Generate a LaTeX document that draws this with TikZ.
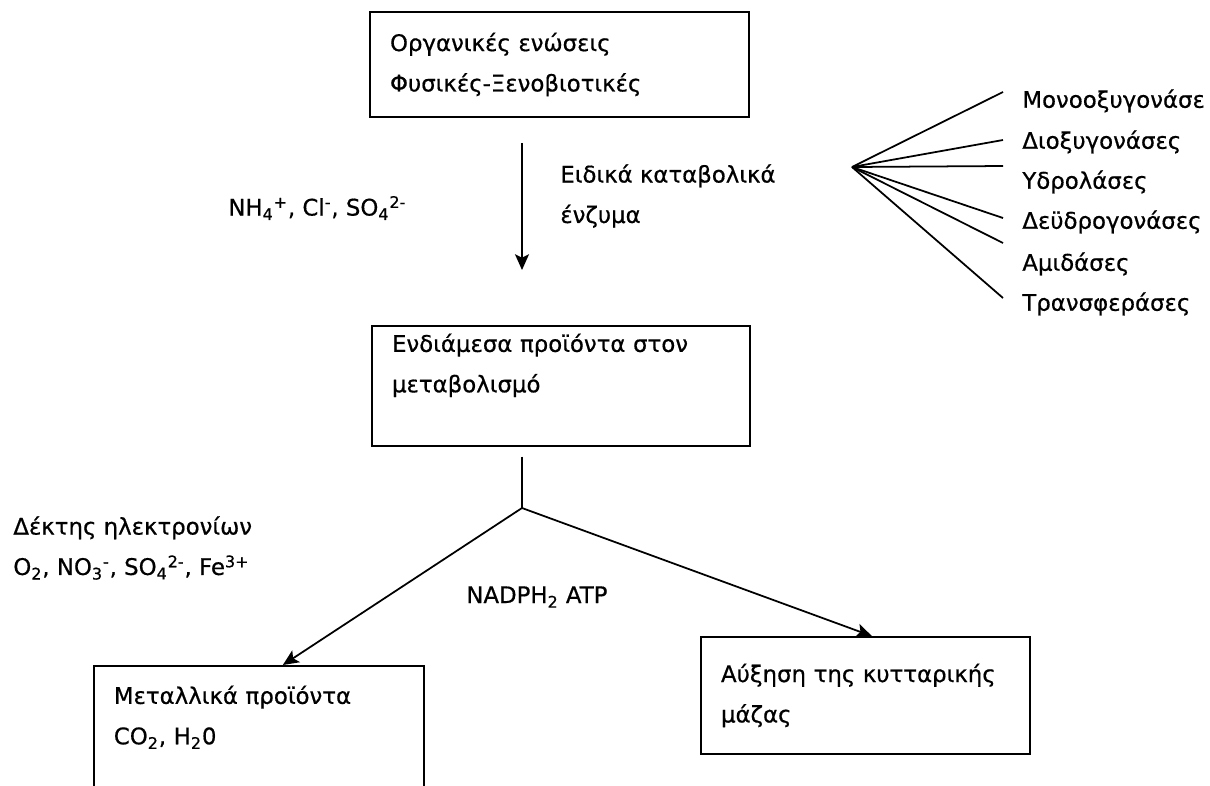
\documentclass[tikz,border=0pt]{standalone}
\usepackage{fontspec}
\setmainfont[FakeBold=0.6]{DejaVu Sans}
\usetikzlibrary{arrows.meta}

\begin{document}
\begin{tikzpicture}[x=0.02cm,y=-0.02cm]
		\tikzstyle{Box} = [rectangle, draw=black, line width=1pt, align=left, inner xsep=0.4cm, font=\fontsize{13}{23}\selectfont]
		\tikzstyle{Txt} = [align=left, inner sep=0pt, font=\fontsize{13}{23}\selectfont]
		\tikzstyle{Enzyme} = [anchor=west, inner xsep=0.38cm, inner ysep=0pt, font=\fontsize{13}{15}\selectfont]
		\tikzstyle{line} = [line width=1pt]
		\tikzstyle{arrow} = [line width=1pt,-{Stealth[length=9pt,width=8pt,inset=2pt]}]
		
		\useasboundingbox (0,0) rectangle (1210,785);
		\clip (0,0) rectangle (1210,785);
		
		\node (organic) [Box, text width=6.78cm, minimum height=2.1cm] at (559.5,64.5) {Οργανικές ενώσεις\\Φυσικές-Ξενοβιοτικές};
		\node (inter) [Box, text width=6.76cm, anchor=north, inner ysep=0.22cm, text height=0.3cm, text depth=1.66cm] at (561,325) {Ενδιάμεσα προϊόντα στον\\μεταβολισμό};
		\node (growth) [Box, text width=5.78cm, minimum height=2.34cm] at (865.5,695.5) {Αύξηση της κυτταρικής\\μάζας};
		\node (mineral) [Box, text width=5.8cm, anchor=north west, inner ysep=0.46cm, text height=0.3cm, text depth=3cm] at (93,665) {Μεταλλικά προϊόντα\\CO\textsubscript{2}, H\textsubscript{2}0};
		
		\node (ions) [Txt, anchor=west] at (228,208) {NH\textsubscript{4}\textsuperscript{+}, Cl\textsuperscript{-}, SO\textsubscript{4}\textsuperscript{2-}};
		\node (catab) [Txt, anchor=west] at (560,196) {Ειδικά καταβολικά\\ένζυμα};
		\node (acceptor) [Txt, anchor=west] at (13,548) {Δέκτης ηλεκτρονίων\\O\textsubscript{2}, NO\textsubscript{3}\textsuperscript{-}, SO\textsubscript{4}\textsuperscript{2-}, Fe\textsuperscript{3+}};
		\node (energy) [Txt, anchor=west] at (466,597) {NADPH\textsubscript{2} ATP};
		
		\node (mono) [Enzyme] at (1003,101) {Μονοοξυγονάσε};
		\node (dio) [Enzyme] at (1003,142) {Διοξυγονάσες};
		\node (hydro) [Enzyme] at (1003,182) {Υδρολάσες};
		\node (dehydro) [Enzyme] at (1003,222) {Δεϋδρογονάσες};
		\node (amid) [Enzyme] at (1003,264) {Αμιδάσες};
		\node (trans) [Enzyme] at (1003,304) {Τρανσφεράσες};
		
		\coordinate (fan) at (852,167);
		\coordinate (split) at (522,508);
		
		\draw [line] (fan) -- ([yshift=0.18cm]mono.west);
		\draw [line] (fan) -- ([yshift=0.04cm]dio.west);
		\draw [line] (fan) -- ([yshift=0.32cm]hydro.west);
		\draw [line] (fan) -- ([yshift=0.08cm]dehydro.west);
		\draw [line] (fan) -- ([yshift=0.42cm]amid.west);
		\draw [line] (fan) -- ([yshift=0.12cm]trans.west);
		
		\draw [arrow, shorten <=0.5cm, shorten >=1.1cm] (organic.south -| split) -- (inter.north -| split);
		\draw [line, shorten <=0.2cm] (inter.south -| split) -- (split);
		\draw [arrow] (split) -- ([xshift=0.48cm]mineral.north);
		\draw [arrow] (split) -- ([xshift=0.13cm]growth.north);
\end{tikzpicture}
\end{document}
